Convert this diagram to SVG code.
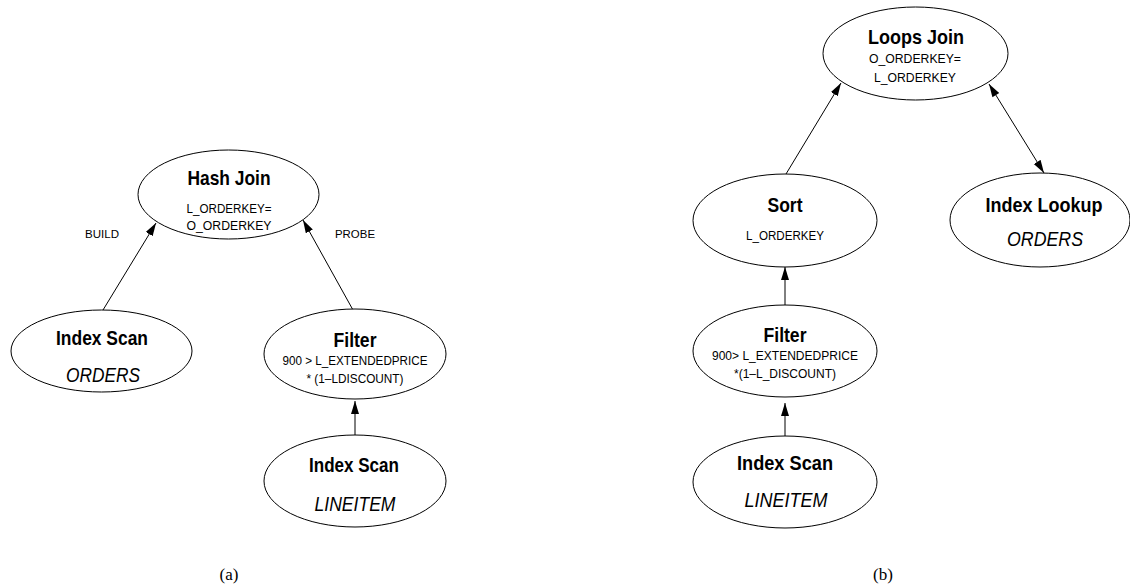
<svg xmlns="http://www.w3.org/2000/svg" width="1130" height="586" viewBox="0 0 1130 586">
<style>
.n ellipse{fill:#fff;stroke:#000;stroke-width:1}
text{font-family:"Liberation Sans",Arial,sans-serif;fill:#000;text-anchor:middle}
.t{font-size:20.5px;font-weight:bold}
.i{font-size:20px;font-style:italic}
.s{font-size:12.5px}
.l{font-size:11.5px}
.cap{font-family:"Liberation Serif","Times New Roman",serif;font-size:17px}
.e line{stroke:#000;stroke-width:1}
</style>
<defs>
<marker id="ah" markerUnits="userSpaceOnUse" markerWidth="14" markerHeight="9" refX="13" refY="4" orient="auto">
<path d="M0,0 L13,4 L0,8 z" fill="#000"/>
</marker>
<marker id="as" markerUnits="userSpaceOnUse" markerWidth="14" markerHeight="9" refX="0" refY="4" orient="auto">
<path d="M13,0 L0,4 L13,8 z" fill="#000"/>
</marker>
</defs>
<rect width="1130" height="586" fill="#fff"/>
<g id="edges" class="e">
<line x1="103" y1="310" x2="156" y2="223" marker-end="url(#ah)"/>
<line x1="353" y1="310" x2="303" y2="220" marker-end="url(#ah)"/>
<line x1="355" y1="436" x2="355" y2="401" marker-end="url(#ah)"/>
<line x1="786" y1="174" x2="841" y2="83" marker-end="url(#ah)"/>
<line x1="989" y1="84" x2="1044" y2="173" marker-start="url(#as)" marker-end="url(#ah)"/>
<line x1="785" y1="306" x2="785" y2="267" marker-end="url(#ah)"/>
<line x1="785" y1="437" x2="785" y2="403" marker-end="url(#ah)"/>
</g>
<g id="edge-labels">
<text class="l" x="102" y="238" textLength="34" lengthAdjust="spacingAndGlyphs">BUILD</text>
<text class="l" x="355" y="238" textLength="40" lengthAdjust="spacingAndGlyphs">PROBE</text>
</g>
<g id="hashjoin" class="n">
<ellipse cx="228.5" cy="194.5" rx="90.5" ry="44.5"/>
<text class="t" x="229" y="185" textLength="83" lengthAdjust="spacingAndGlyphs">Hash Join</text>
<text class="s" x="229" y="213" textLength="85" lengthAdjust="spacingAndGlyphs">L_ORDERKEY=</text>
<text class="s" x="229" y="230" textLength="85" lengthAdjust="spacingAndGlyphs">O_ORDERKEY</text>
</g>
<g id="indexscan-orders" class="n">
<ellipse cx="101.5" cy="351" rx="90.5" ry="41"/>
<text class="t" x="102" y="345" textLength="92" lengthAdjust="spacingAndGlyphs">Index Scan</text>
<text class="i" x="103" y="382" textLength="74" lengthAdjust="spacingAndGlyphs">ORDERS</text>
</g>
<g id="filter-a" class="n">
<ellipse cx="355" cy="354" rx="91" ry="45"/>
<text class="t" x="355" y="347" textLength="43" lengthAdjust="spacingAndGlyphs">Filter</text>
<text class="s" x="355" y="365" textLength="145" lengthAdjust="spacingAndGlyphs">900 &gt; L_EXTENDEDPRICE</text>
<text class="s" x="355" y="383" textLength="97" lengthAdjust="spacingAndGlyphs">* (1–LDISCOUNT)</text>
</g>
<g id="indexscan-lineitem-a" class="n">
<ellipse cx="355" cy="481" rx="91" ry="46"/>
<text class="t" x="354" y="472" textLength="90" lengthAdjust="spacingAndGlyphs">Index Scan</text>
<text class="i" x="355" y="511" textLength="81" lengthAdjust="spacingAndGlyphs">LINEITEM</text>
</g>
<g id="loopsjoin" class="n">
<ellipse cx="915.5" cy="53.5" rx="92.5" ry="46.5"/>
<text class="t" x="916" y="44" textLength="96" lengthAdjust="spacingAndGlyphs">Loops Join</text>
<text class="s" x="915" y="63" textLength="92" lengthAdjust="spacingAndGlyphs">O_ORDERKEY=</text>
<text class="s" x="915" y="82" textLength="82" lengthAdjust="spacingAndGlyphs">L_ORDERKEY</text>
</g>
<g id="sort" class="n">
<ellipse cx="785" cy="220.5" rx="92" ry="46.5"/>
<text class="t" x="785" y="212" textLength="35" lengthAdjust="spacingAndGlyphs">Sort</text>
<text class="s" x="785" y="240" textLength="78" lengthAdjust="spacingAndGlyphs">L_ORDERKEY</text>
</g>
<g id="indexlookup" class="n">
<ellipse cx="1040" cy="220" rx="90" ry="47"/>
<text class="t" x="1044" y="212" textLength="117" lengthAdjust="spacingAndGlyphs">Index Lookup</text>
<text class="i" x="1045" y="246" textLength="76" lengthAdjust="spacingAndGlyphs">ORDERS</text>
</g>
<g id="filter-b" class="n">
<ellipse cx="785" cy="351" rx="92" ry="46"/>
<text class="t" x="785" y="342" textLength="43" lengthAdjust="spacingAndGlyphs">Filter</text>
<text class="s" x="785" y="360" textLength="146" lengthAdjust="spacingAndGlyphs">900&gt; L_EXTENDEDPRICE</text>
<text class="s" x="785" y="378" textLength="102" lengthAdjust="spacingAndGlyphs">*(1–L_DISCOUNT)</text>
</g>
<g id="indexscan-lineitem-b" class="n">
<ellipse cx="785" cy="482" rx="92" ry="46"/>
<text class="t" x="785" y="470" textLength="96" lengthAdjust="spacingAndGlyphs">Index Scan</text>
<text class="i" x="786" y="507" textLength="83" lengthAdjust="spacingAndGlyphs">LINEITEM</text>
</g>
<g id="captions">
<text class="cap" x="229" y="580">(a)</text>
<text class="cap" x="883" y="580">(b)</text>
</g>
</svg>
